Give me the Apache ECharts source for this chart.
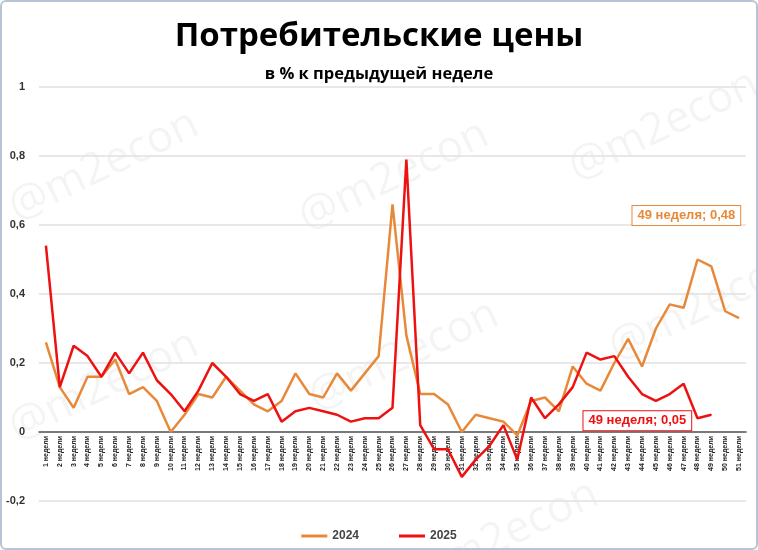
<!DOCTYPE html>
<html><head><meta charset="utf-8">
<script src="https://cdn.jsdelivr.net/npm/echarts@6/dist/echarts.min.js"></script>
<style>html,body{margin:0;padding:0;background:#fff}#c{width:758px;height:550px;box-sizing:border-box;border:2px solid #b8c4d6;border-radius:6px}</style>
</head><body><div id="c"></div>
<script>
var weeks = [];
for (var i = 1; i <= 51; i++) weeks.push(i + ' недели');
var s2024 = [0.26,0.13,0.07,0.16,0.16,0.21,0.11,0.13,0.09,0.00,0.05,0.11,0.10,0.16,0.12,0.08,0.06,0.09,0.17,0.11,0.10,0.17,0.12,0.17,0.22,0.66,0.28,0.11,0.11,0.08,0.00,0.05,0.04,0.03,-0.01,0.09,0.10,0.06,0.19,0.14,0.12,0.20,0.27,0.19,0.30,0.37,0.36,0.50,0.48,0.35,0.33];
var s2025 = [0.54,0.13,0.25,0.22,0.16,0.23,0.17,0.23,0.15,0.11,0.06,0.12,0.20,0.16,0.11,0.09,0.11,0.03,0.06,0.07,0.06,0.05,0.03,0.04,0.04,0.07,0.79,0.02,-0.05,-0.05,-0.13,-0.08,-0.04,0.02,-0.08,0.10,0.04,0.08,0.13,0.23,0.21,0.22,0.16,0.11,0.09,0.11,0.14,0.04,0.05];
var ann2024 = '49 неделя; 0,48', ann2025 = '49 неделя; 0,05';
var chart = echarts.init(document.getElementById('c'));
var wm = [];
[[0,100],[290,110],[560,60],[0,320],[300,290],[600,240],[400,470]].forEach(function(p){
  wm.push({type:'text',left:p[0],top:p[1],rotation:Math.PI/7,z:-1,style:{text:'@m2econ',fontSize:44,fill:'rgba(0,0,0,0.045)',fontFamily:'Open Sans'}});
});
chart.setOption({
  animation:false,
  title:[{text:'Потребительские цены',left:'center',top:13,textStyle:{fontSize:33,fontWeight:'bold',color:'#000',fontFamily:'Open Sans'}},
         {text:'в % к предыдущей неделе',left:'center',top:59,textStyle:{fontSize:16.5,fontWeight:'bold',color:'#000',fontFamily:'Open Sans'}}],
  graphic:wm,
  grid:{left:37,right:10,top:85,bottom:47},
  legend:{bottom:1,left:'center',itemWidth:26,itemHeight:3,icon:'rect',itemGap:40,textStyle:{fontWeight:'bold',fontSize:12,color:'#444'},data:['2024','2025']},
  xAxis:[{type:'category',data:weeks,boundaryGap:true,
    axisLine:{onZero:true,lineStyle:{color:'#555',width:1.5}},axisTick:{show:false},axisLabel:{show:false}},
    {type:'category',data:weeks,boundaryGap:true,position:'bottom',offset:-70,
    axisLine:{show:false},axisTick:{show:false},
    axisLabel:{rotate:90,interval:0,fontSize:7,fontWeight:'bold',color:'#222',margin:5}}],
  yAxis:{type:'value',min:-0.2,max:1,interval:0.2,axisLine:{show:false},axisTick:{show:false},
    splitLine:{lineStyle:{color:'#e0e0e0',width:1.5}},
    axisLabel:{fontSize:11,fontWeight:'bold',color:'#333',margin:14,formatter:function(v){return String(Math.round(v*10)/10).replace('.',',');}}},
  series:[
    {name:'2024',type:'line',data:s2024,symbol:'none',lineStyle:{color:'#e8893a',width:2.5},itemStyle:{color:'#e8893a'},
     markPoint:{symbol:'circle',symbolSize:1,data:[{coord:[48,0.48]}],
       label:{show:true,formatter:ann2024,offset:[-25,-51],color:'#e8893a',fontWeight:'bold',fontSize:13,backgroundColor:'#fff',borderColor:'#e8893a',borderWidth:1,padding:[3,5]}}},
    {name:'2025',type:'line',data:s2025,symbol:'none',lineStyle:{color:'#ee1111',width:2.5},itemStyle:{color:'#ee1111'},
     markPoint:{symbol:'circle',symbolSize:1,data:[{coord:[48,0.05]}],
       label:{show:true,formatter:ann2025,offset:[-74,6],color:'#ee1111',fontWeight:'bold',fontSize:13,backgroundColor:'#fff',borderColor:'#ee1111',borderWidth:1,padding:[3,5]}}}
  ]
});
</script></body></html>
